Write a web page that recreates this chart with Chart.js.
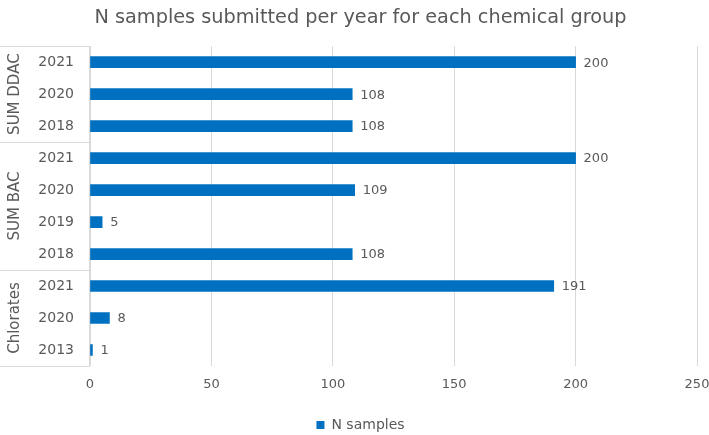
<!DOCTYPE html>
<html><head><meta charset="utf-8">
<script src="https://cdn.jsdelivr.net/npm/chart.js@4"></script>
<style>html,body{margin:0;padding:0;background:#fff}#w{width:709px;height:435px}</style>
</head><body><div id="w"><canvas id="c"></canvas></div>
<script>
const years = ["2021","2020","2018","2021","2020","2019","2018","2021","2020","2013"];
const groups = ["SUM DDAC","SUM BAC","Chlorates"];
const groupSizes = [3,4,3];
const nSamples = [200,108,108,200,109,5,108,191,8,1];
const xTicks = [0,50,100,150,200,250];

const FONT = "DejaVu Sans, Verdana, sans-serif";
const GRAY = "#595959";
const LINE = "#d9d9d9";

const extras = {
  id:'extras',
  afterDatasetsDraw(chart){
    const ctx = chart.ctx, y = chart.scales.y, area = chart.chartArea;
    const meta = chart.getDatasetMeta(0);
    ctx.save();
    ctx.font = "13px " + FONT; ctx.fillStyle = GRAY;
    ctx.textBaseline = 'middle'; ctx.textAlign = 'left';
    meta.data.forEach((b,i)=>{ ctx.fillText(String(nSamples[i]), b.x + 8, b.y + 1); });
    const band = y.getPixelForValue(1) - y.getPixelForValue(0);
    ctx.strokeStyle = LINE; ctx.lineWidth = 1;
    let idx = 0;
    const bounds = [];
    bounds.push(y.getPixelForValue(0) - band/2);
    groupSizes.forEach(s=>{ idx += s; bounds.push(y.getPixelForValue(idx-1) + band/2); });
    bounds.forEach(v=>{ const yy = Math.round(v)+0.5; ctx.beginPath(); ctx.moveTo(0,yy); ctx.lineTo(area.left,yy); ctx.stroke(); });
    ctx.beginPath(); ctx.moveTo(area.left-0.5, bounds[0]); ctx.lineTo(area.left-0.5, bounds[bounds.length-1]); ctx.stroke();
    ctx.font = "15px " + FONT; ctx.textAlign='center';
    groups.forEach((g,k)=>{
      const cy = (bounds[k]+bounds[k+1])/2;
      ctx.save(); ctx.translate(15, cy); ctx.rotate(-Math.PI/2); ctx.fillText(g,0,0); ctx.restore();
    });
    ctx.restore();
  }
};

new Chart(document.getElementById('c'), {
  type:'bar',
  data:{ labels: years, datasets:[{ label:'N samples', data:nSamples, backgroundColor:'#0070C0', barThickness:11 }]},
  options:{
    indexAxis:'y', responsive:true, maintainAspectRatio:false, animation:false,
    layout:{ padding:{ left:12, right:0, top:0, bottom:-7 } },
    plugins:{
      title:{ display:true, text:'N samples submitted per year for each chemical group', color:GRAY, font:{ family:FONT, size:19.3, weight:'normal' }, padding:{ top:6, bottom:17 } },
      legend:{ position:'bottom', labels:{ color:GRAY, font:{ family:FONT, size:14 }, boxWidth:8, boxHeight:8, padding:0 } },
      tooltip:{ enabled:false }
    },
    scales:{
      x:{ min:0, max:250, afterBuildTicks(s){ s.ticks = xTicks.map(v=>({value:v})); },
          grid:{ color:LINE, drawTicks:false }, border:{ display:false },
          ticks:{ color:GRAY, font:{ family:FONT, size:13 }, padding:11 },
          afterFit(s){ s.height = 52; s.paddingRight = 12; s.paddingLeft = 0; } },
      y:{ grid:{ display:false, drawTicks:false }, border:{ display:false },
          ticks:{ color:GRAY, font:{ family:FONT, size:14 }, padding:16 },
          afterFit(s){ s.width = 78; } }
    }
  },
  plugins:[extras]
});
</script></body></html>
